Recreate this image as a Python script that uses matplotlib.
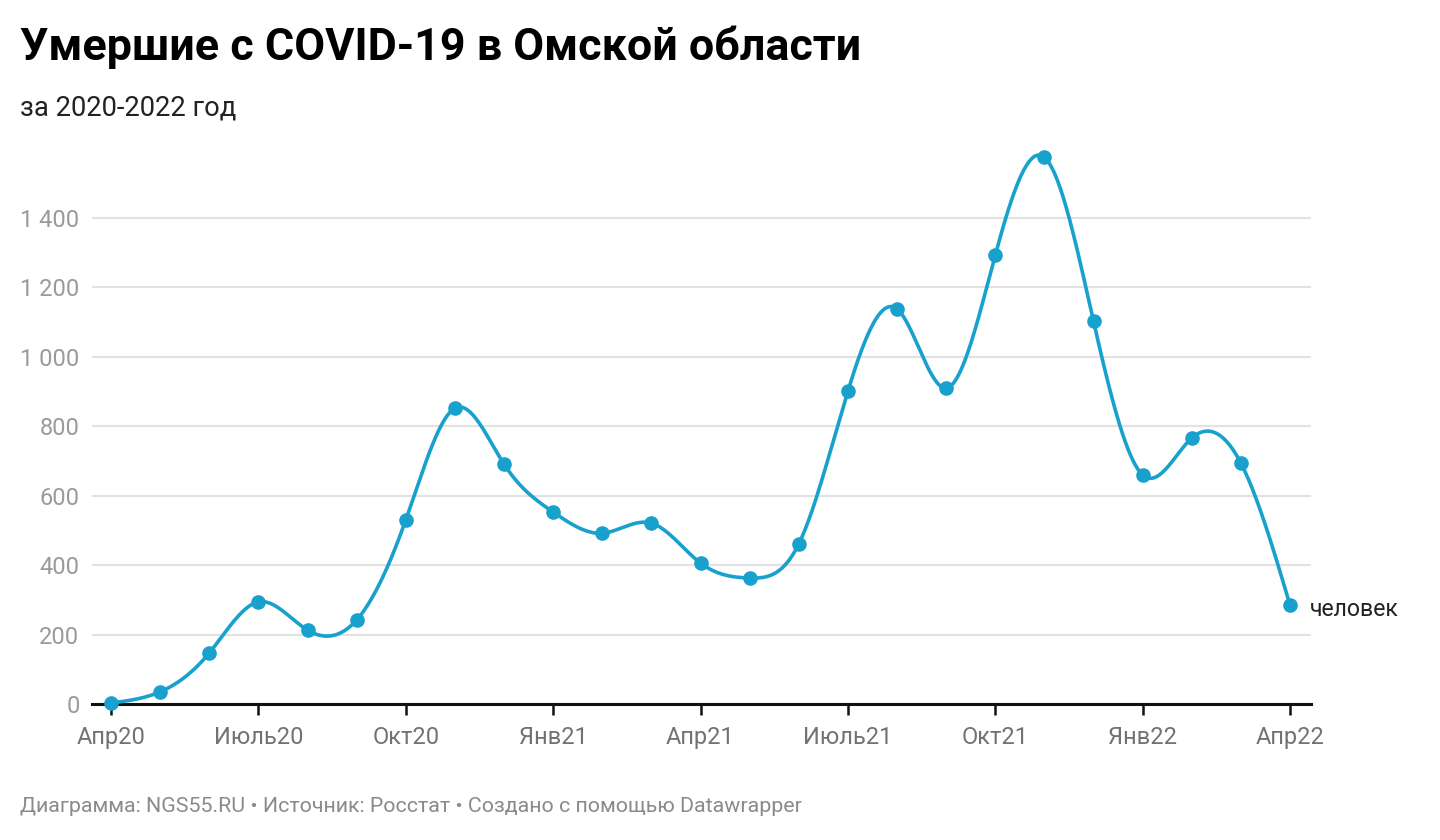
import numpy as np
import matplotlib
matplotlib.use('Agg')
from matplotlib import pyplot as plt

plt.rcParams['font.family'] = ['Roboto', 'DejaVu Sans']

# monthly deaths, Apr 2020 .. Apr 2022
months = ['Апр20', 'Май20', 'Июнь20', 'Июль20', 'Авг20', 'Сен20', 'Окт20', 'Ноя20', 'Дек20',
          'Янв21', 'Фев21', 'Мар21', 'Апр21', 'Май21', 'Июнь21', 'Июль21', 'Авг21', 'Сен21',
          'Окт21', 'Ноя21', 'Дек21', 'Янв22', 'Фев22', 'Мар22', 'Апр22']
deaths = [3, 35, 147, 294, 213, 242, 530, 852, 691, 553, 492, 521, 406, 363, 461,
          901, 1138, 910, 1293, 1575, 1103, 660, 766, 694, 285]
tick_idx = [0, 3, 6, 9, 12, 15, 18, 21, 24]
yticks = [0, 200, 400, 600, 800, 1000, 1200, 1400]

blue = '#18a1cd'

x = np.arange(len(deaths), dtype=float)
y = np.array(deaths, dtype=float)

# natural cubic spline through the points
n = len(x)
A = np.zeros((n, n))
b = np.zeros(n)
A[0, 0] = 1
A[-1, -1] = 1
for i in range(1, n - 1):
    A[i, i - 1] = 1
    A[i, i] = 4
    A[i, i + 1] = 1
    b[i] = 6 * (y[i + 1] - 2 * y[i] + y[i - 1])
M = np.linalg.solve(A, b)
xs, ys = [], []
for i in range(n - 1):
    t = np.linspace(0, 1, 40)
    seg = ((1 - t) * y[i] + t * y[i + 1]
           + ((1 - t) ** 3 - (1 - t)) * M[i] / 6 + (t ** 3 - t) * M[i + 1] / 6)
    xs.extend(x[i] + t)
    ys.extend(seg)

fig = plt.figure(figsize=(14.4, 8.4), dpi=100)
ax = fig.add_axes([92 / 1440, 136 / 840, (1311 - 92) / 1440, (704 - 140) / 840])

ax.plot(xs, ys, color=blue, lw=2.6, solid_capstyle='round', clip_on=False, zorder=3)
ax.plot(x, y, 'o', color=blue, ms=9.5, clip_on=False, zorder=4)

ax.set_xlim(-19 / 49.125, 24 + 21 / 49.125)
ax.set_ylim(0, (704 - 140) / 0.34714)

for s in ['top', 'right', 'left']:
    ax.spines[s].set_visible(False)
ax.spines['bottom'].set_linewidth(2.2)
ax.spines['bottom'].set_color('#111111')
ax.spines['bottom'].set_zorder(2)

ax.set_yticks(yticks)
ax.set_yticklabels([format(v, ',').replace(',', ' ') for v in yticks])
ax.yaxis.grid(True, color='#e2e2e2', lw=1.5)
ax.set_axisbelow(True)
ax.tick_params(axis='y', length=0, pad=9, labelsize=17, labelcolor='#9a9a9a')

ax.set_xticks(tick_idx)
ax.set_xticklabels([months[i] for i in tick_idx])
ax.tick_params(axis='x', length=8, width=1.8, color='#111111', pad=8,
               labelsize=17, labelcolor='#727272')

ax.text(24 + 0.4, deaths[-1] - 14, 'человек', fontsize=16.7, color='#222222',
        va='center', ha='left')

fig.text(20 / 1440, 1 - 47 / 840, 'Умершие с COVID-19 в Омской области',
         fontsize=32.3, fontweight='bold', color='#000000', va='center', ha='left')
fig.text(20 / 1440, 1 - 108 / 840, 'за 2020-2022 год',
         fontsize=19.7, color='#222222', va='center', ha='left')
fig.text(20 / 1440, 1 - 806 / 840,
         'Диаграмма: NGS55.RU • Источник: Росстат • Создано с помощью Datawrapper',
         fontsize=15.4, color='#8a8a8a', va='center', ha='left')

plt.savefig('out.png', dpi=100)
